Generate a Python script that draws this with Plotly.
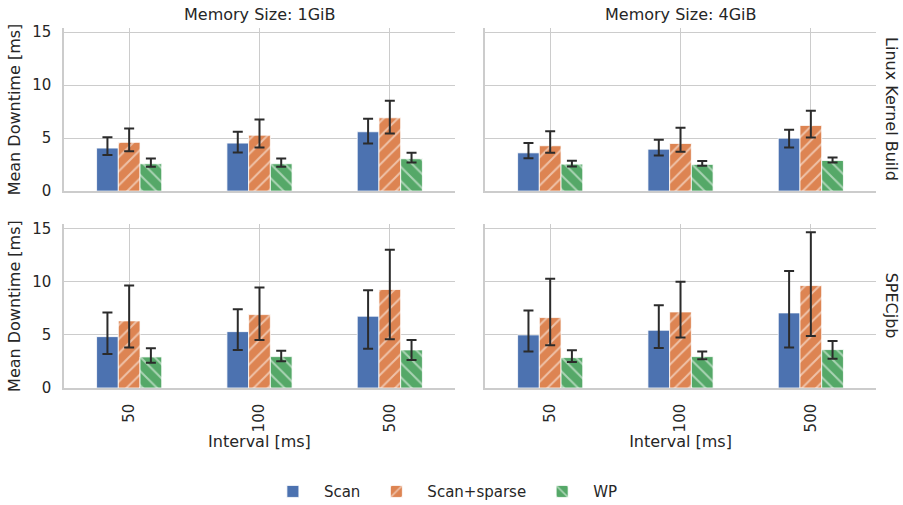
import plotly.graph_objects as go

# Categories and series
intervals = ["50", "100", "500"]
methods = ["Scan", "Scan+sparse", "WP"]

# Mean downtime [ms] per panel; rows = Scan, Scan+sparse, WP; columns = interval 50/100/500
kernel_1g_mean = [[4.06, 4.53, 5.60], [4.60, 5.28, 6.92], [2.58, 2.58, 3.05]]
kernel_1g_low = [[3.40, 3.65, 4.50], [3.77, 4.12, 5.44], [2.29, 2.29, 2.70]]
kernel_1g_high = [[5.09, 5.60, 6.82], [5.90, 6.76, 8.52], [3.08, 3.08, 3.61]]

kernel_4g_mean = [[3.61, 3.96, 5.00], [4.28, 4.50, 6.20], [2.55, 2.52, 2.89]]
kernel_4g_low = [[3.11, 3.36, 4.12], [3.61, 3.71, 5.06], [2.33, 2.39, 2.70]]
kernel_4g_high = [[4.53, 4.84, 5.78], [5.66, 5.97, 7.58], [2.86, 2.83, 3.17]]

specjbb_1g_mean = [[4.83, 5.30, 6.75], [6.31, 6.90, 9.26], [2.92, 2.95, 3.58]]
specjbb_1g_low = [[3.20, 3.58, 3.70], [3.80, 4.52, 4.58], [2.38, 2.51, 2.64]]
specjbb_1g_high = [[7.09, 7.40, 9.19], [9.63, 9.44, 12.99], [3.73, 3.51, 4.52]]

specjbb_4g_mean = [[4.99, 5.43, 7.06], [6.62, 7.15, 9.63], [2.86, 2.95, 3.61]]
specjbb_4g_low = [[3.42, 3.77, 3.80], [4.02, 4.74, 4.89], [2.45, 2.70, 2.76]]
specjbb_4g_high = [[7.28, 7.78, 11.01], [10.26, 10.00, 14.65], [3.55, 3.42, 4.42]]

colors = ["#4C72B0", "#DD8452", "#55A868"]
hatches = ["", "/", "\\"]
text_color = "#262626"
grid_color = "#cccccc"
font_family = "DejaVu Sans"

panels = [
    (kernel_1g_mean, kernel_1g_low, kernel_1g_high, "x", "y"),
    (kernel_4g_mean, kernel_4g_low, kernel_4g_high, "x2", "y2"),
    (specjbb_1g_mean, specjbb_1g_low, specjbb_1g_high, "x3", "y3"),
    (specjbb_4g_mean, specjbb_4g_low, specjbb_4g_high, "x4", "y4"),
]

fig = go.Figure()
for p, (mean, low, high, xa, ya) in enumerate(panels):
    for m, name in enumerate(methods):
        fig.add_trace(go.Bar(
            x=intervals,
            y=mean[m],
            name=name,
            xaxis=xa,
            yaxis=ya,
            offsetgroup=str(m),
            legendgroup=name,
            showlegend=(p == 0),
            marker=dict(
                color=colors[m],
                line=dict(color="white", width=0.8),
                pattern=dict(shape=hatches[m], fgcolor="white", size=10, solidity=0.2),
            ),
            error_y=dict(
                type="data",
                symmetric=False,
                array=[h - v for h, v in zip(high[m], mean[m])],
                arrayminus=[v - l for v, l in zip(mean[m], low[m])],
                color="#2b2b2b",
                thickness=2,
                width=5,
            ),
        ))

left_dom = [0, 0.4815]
right_dom = [0.5185, 1]
top_dom = [0.547, 1]
bottom_dom = [0, 0.455]

common_x = dict(
    type="category", range=[-0.5, 2.5], showgrid=True, gridcolor=grid_color, gridwidth=1,
    showline=True, linecolor=grid_color, linewidth=1.5, zeroline=False, automargin=False,
    tickfont=dict(size=15, color=text_color), ticks="outside", ticklen=8,
    tickcolor="rgba(0,0,0,0)",
)
common_y = dict(
    range=[0, 15.4], tickvals=[0, 5, 10, 15], showgrid=True, gridcolor=grid_color, gridwidth=1,
    showline=True, linecolor=grid_color, linewidth=1.5, zeroline=False, automargin=False,
    tickfont=dict(size=15, color=text_color), ticks="outside", ticklen=8,
    tickcolor="rgba(0,0,0,0)",
)
y_title = dict(text="Mean Downtime [ms]", font=dict(size=16, color=text_color), standoff=8)
x_title = dict(text="Interval [ms]", font=dict(size=16, color=text_color), standoff=4)

fig.update_layout(
    width=903,
    height=505,
    margin=dict(l=64, r=27, t=28, b=117, autoexpand=False),
    paper_bgcolor="white",
    plot_bgcolor="white",
    font=dict(family=font_family, color=text_color),
    barmode="group",
    bargap=0.5,
    bargroupgap=0,
    xaxis=dict(common_x, domain=left_dom, anchor="y", showticklabels=False),
    xaxis2=dict(common_x, domain=right_dom, anchor="y2", showticklabels=False),
    xaxis3=dict(common_x, domain=left_dom, anchor="y3", tickangle=-90, title=x_title),
    xaxis4=dict(common_x, domain=right_dom, anchor="y4", tickangle=-90, title=x_title),
    yaxis=dict(common_y, domain=top_dom, anchor="x", title=y_title),
    yaxis2=dict(common_y, domain=top_dom, anchor="x2", showticklabels=False),
    yaxis3=dict(common_y, domain=bottom_dom, anchor="x3", title=y_title),
    yaxis4=dict(common_y, domain=bottom_dom, anchor="x4", showticklabels=False),
    legend=dict(
        orientation="h", x=0.466, xanchor="center", y=-0.288, yanchor="middle",
        font=dict(size=15, color=text_color), bgcolor="rgba(0,0,0,0)",
        itemwidth=52,
    ),
    annotations=[
        dict(text="Memory Size: 1GiB", x=sum(left_dom) / 2, y=1.038, xref="paper", yref="paper",
             showarrow=False, font=dict(size=16, color=text_color), xanchor="center", yanchor="middle"),
        dict(text="Memory Size: 4GiB", x=sum(right_dom) / 2, y=1.038, xref="paper", yref="paper",
             showarrow=False, font=dict(size=16, color=text_color), xanchor="center", yanchor="middle"),
        dict(text="Linux Kernel Build", x=1.019, y=sum(top_dom) / 2, xref="paper", yref="paper",
             textangle=90, showarrow=False, font=dict(size=16, color=text_color),
             xanchor="center", yanchor="middle"),
        dict(text="SPECjbb", x=1.019, y=sum(bottom_dom) / 2, xref="paper", yref="paper",
             textangle=90, showarrow=False, font=dict(size=16, color=text_color),
             xanchor="center", yanchor="middle"),
    ],
)

fig.write_html("out.html")
